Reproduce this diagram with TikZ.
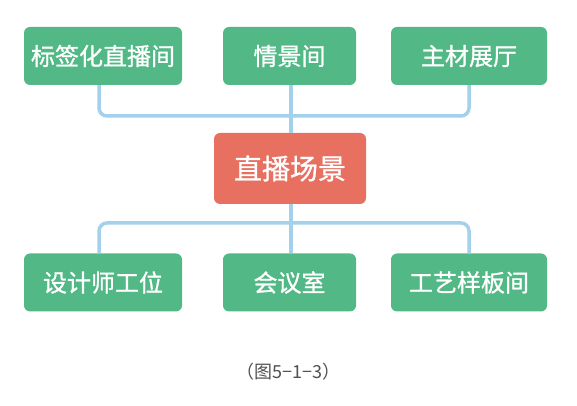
\documentclass[tikz,border=0pt]{standalone}
\usepackage{fontspec}
\setmainfont{Noto Sans CJK SC}
\newfontfamily\boxfont{Noto Sans CJK SC}[FakeBold=1]
\usepackage{tikz}
\definecolor{boxgreen}{HTML}{52B886}
\definecolor{boxred}{HTML}{E87061}
\definecolor{linkblue}{HTML}{A3D0EA}
\definecolor{capgray}{HTML}{505050}
\tikzset{
  leaf/.style={rectangle, rounded corners=6pt, fill=boxgreen, text=white,
               minimum height=58pt, inner sep=0pt, font=\boxfont\fontsize{24}{24}\selectfont},
  hub/.style={rectangle, rounded corners=6pt, fill=boxred, text=white,
              minimum width=152pt, minimum height=71pt, inner sep=0pt,
              font=\boxfont\fontsize{28}{28}\selectfont},
  link/.style={draw=linkblue, line width=3.5pt, rounded corners=8pt},   % connector
  figcap/.style={font=\fontsize{18}{18}\selectfont, text=capgray},
}
\begin{document}
\begin{tikzpicture}[x=1pt, y=1pt]
  \useasboundingbox (0,0) rectangle (577,406);
  \node[hub] (c) at (290,237.5) {直播场景};
  \node[leaf, minimum width=158pt] (t1) at (103,350)   {标签化直播间};
  \node[leaf, minimum width=133pt] (t2) at (289.5,350) {情景间};
  \node[leaf, minimum width=156pt] (t3) at (469,350)   {主材展厅};
  \node[leaf, minimum width=158pt] (b1) at (103,123.5)   {设计师工位};
  \node[leaf, minimum width=133pt] (b2) at (289.5,123.5) {会议室};
  \node[leaf, minimum width=156pt] (b3) at (469,123.5)   {工艺样板间};
  \coordinate (jt) at (291,290);
  \coordinate (jb) at (291,183);
  % connectors
  \foreach \u/\dx in {t1/-4,t3/0}
    \draw[link] ([xshift=\dx pt]\u.south) |- (jt);
  \foreach \u/\dx in {b1/-4,b3/0}
    \draw[link] ([xshift=\dx pt]\u.north) |- (jb);
  \draw[link] ([xshift=1.5pt]t2.south) -- ([xshift=1pt]c.north);
  \draw[link] ([xshift=1pt]c.south) -- ([xshift=1.5pt]b2.north);
  \node[figcap] (fig) at (288.5,34) {（图5−1−3）};
\end{tikzpicture}
\end{document}
